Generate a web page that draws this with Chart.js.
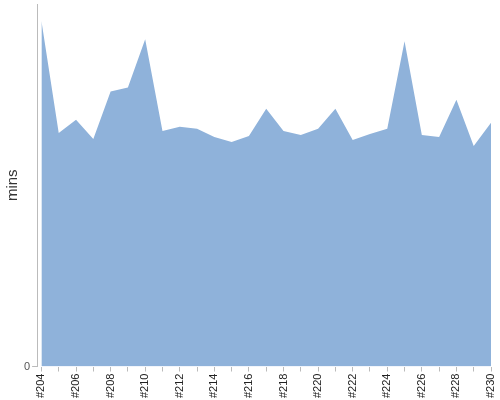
<!DOCTYPE html>
<html>
<head>
<meta charset="utf-8">
<script src="https://cdn.jsdelivr.net/npm/chart.js@4/dist/chart.umd.min.js"></script>
<style>
  html, body { margin: 0; padding: 0; background: #fff; }
  #wrap { width: 500px; height: 400px; }
</style>
</head>
<body>
<div id="wrap"><canvas id="c" width="500" height="400"></canvas></div>
<script>
const categories = ['#204','#205','#206','#207','#208','#209','#210','#211','#212','#213','#214','#215','#216','#217','#218','#219','#220','#221','#222','#223','#224','#225','#226','#227','#228','#229','#230'];
const minsValues = [34.3,23.2,24.5,22.6,27.3,27.7,32.5,23.4,23.8,23.6,22.8,22.3,22.9,25.6,23.4,23.0,23.6,25.6,22.5,23.1,23.6,32.3,23.0,22.8,26.5,21.9,24.2];
const yTickLabels = ['0'];

const points = minsValues.map((v, i) => ({ x: i, y: v }));

const chart = new Chart(document.getElementById('c'), {
  type: 'line',
  data: {
    datasets: [{
      data: points,
      fill: 'origin',
      backgroundColor: '#8fb2da',
      borderColor: '#8fb2da',
      borderWidth: 0,
      pointRadius: 0,
      tension: 0
    }]
  },
  options: {
    responsive: false,
    animation: false,
    layout: { padding: { top: 4, right: 9, left: 4, bottom: 0 } },
    plugins: { legend: { display: false }, tooltip: { enabled: false } },
    scales: {
      x: {
        type: 'linear',
        min: -0.25,
        max: categories.length - 1,
        afterBuildTicks: (axis) => {
          axis.ticks = categories.map((c, i) => ({ value: i }));
        },
        ticks: {
          autoSkip: false,
          minRotation: 90,
          maxRotation: 90,
          padding: 2,
          color: '#222',
          font: { family: 'Liberation Sans, Arial', size: 11, lineHeight: 0.01 },
          callback: (v) => (v % 2 === 0 ? categories[v] : '')
        },
        grid: { drawOnChartArea: false, drawTicks: true, tickLength: 5, color: '#bbb' },
        border: { display: false }
      },
      y: {
        min: 0,
        max: 36,
        afterBuildTicks: (axis) => {
          axis.ticks = yTickLabels.map(t => ({ value: Number(t) }));
        },
        ticks: {
          color: '#555',
          padding: 2,
          font: { family: 'Liberation Sans, Arial', size: 11, lineHeight: 0.01 }
        },
        grid: { drawOnChartArea: false, drawTicks: true, tickLength: 5, color: '#bbb' },
        border: { display: true, color: '#bbb', width: 1 },
        title: {
          display: true,
          text: 'mins',
          color: '#333',
          padding: { top: 0, bottom: 0 },
          font: { family: 'Liberation Sans, Arial', size: 15 }
        }
      }
    }
  }
});
</script>
</body>
</html>
